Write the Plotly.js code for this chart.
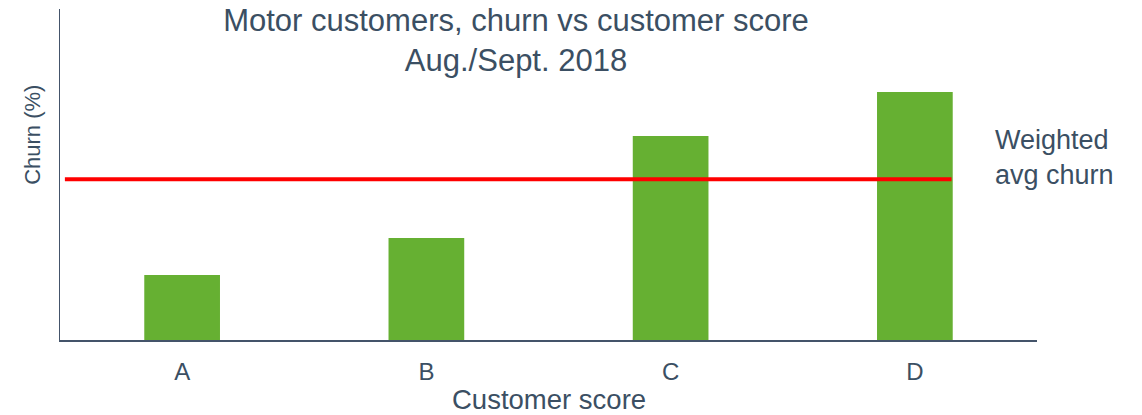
<!DOCTYPE html>
<html>
<head>
<meta charset="utf-8">
<script src="https://cdn.plot.ly/plotly-3.0.1.min.js"></script>
<style>html,body{margin:0;padding:0;background:#fff;}#chart{width:1142px;height:415px;}</style>
</head>
<body>
<div id="chart"></div>
<script>
const categories = ["A", "B", "C", "D"];
const churn = [19.6, 30.8, 61.6, 74.9];
const weightedAvgChurn = 48.6;
const avgLineStart = -0.48;
const avgLineEnd = 3.15;

const textColor = "#3b4f63";
const font = "Liberation Sans, Arial, sans-serif";

const data = [{
  type: "bar",
  x: categories,
  y: churn,
  marker: {color: "#66b032"},
  hoverinfo: "x+y"
}];

const layout = {
  width: 1142,
  height: 415,
  margin: {l: 60, r: 105, t: 9, b: 75},
  paper_bgcolor: "#fff",
  plot_bgcolor: "#fff",
  bargap: 0.69,
  showlegend: false,
  font: {family: font, color: textColor},
  title: {
    text: "Motor customers, churn vs customer score<br>Aug./Sept. 2018",
    font: {size: 31, color: textColor, family: font},
    x: 516 / 1142, xref: "container", xanchor: "center",
    y: 0.925, yref: "container", yanchor: "top"
  },
  xaxis: {
    type: "category",
    range: [-0.5, 3.5],
    showline: true, linecolor: "#44546a", linewidth: 1.5,
    ticks: "", showgrid: false, zeroline: false,
    tickfont: {size: 24, color: textColor, family: font},
    ticklabelstandoff: 10,
    automargin: false
  },
  yaxis: {
    range: [0, 100],
    showline: true, linecolor: "#44546a", linewidth: 1.5,
    showticklabels: false, ticks: "", showgrid: false, zeroline: false,
    automargin: false
  },
  shapes: [{
    type: "line", xref: "x", yref: "y",
    x0: avgLineStart, x1: avgLineEnd,
    y0: weightedAvgChurn, y1: weightedAvgChurn,
    line: {color: "#ff0000", width: 4}
  }],
  annotations: [
    {text: "Customer score", xref: "paper", yref: "paper", x: 0.5, y: -0.18,
     xanchor: "center", yanchor: "middle", showarrow: false,
     font: {size: 27.5, color: textColor, family: font}},
    {text: "Churn (%)", xref: "paper", yref: "paper", x: -0.0276, y: 0.62,
     xanchor: "center", yanchor: "middle", textangle: -90, showarrow: false,
     font: {size: 22, color: textColor, family: font}},
    {text: "Weighted<br>avg churn", xref: "paper", yref: "y", x: 0.955, y: weightedAvgChurn + 6.5,
     xanchor: "left", yanchor: "middle", align: "left", showarrow: false,
     font: {size: 27, color: textColor, family: font}}
  ]
};

Plotly.newPlot("chart", data, layout, {displayModeBar: false, staticPlot: true});
</script>
</body>
</html>
